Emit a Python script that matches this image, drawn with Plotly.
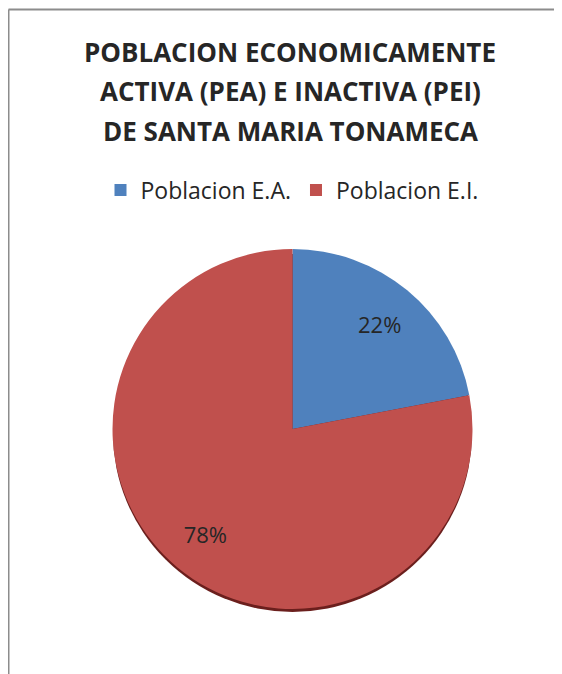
import plotly.graph_objects as go

labels = ["Poblacion E.A.", "Poblacion E.I."]
values = [22, 78]
colors = ["#4F81BD", "#C0504D"]
title_lines = ["POBLACION ECONOMICAMENTE", "ACTIVA (PEA) E INACTIVA (PEI)", "DE SANTA MARIA TONAMECA"]

OFF = 8  # page body margin
W, H = 562 - OFF, 674 - OFF


def px(x):
    return (x - OFF) / W


def py(y):
    return 1 - (y - OFF) / H


dom = dict(x=[px(110), px(475)], y=[py(609), py(249)])

# the filled pie
pie = go.Pie(labels=labels, values=values, sort=False, direction="clockwise", rotation=0,
             marker=dict(colors=colors, line=dict(width=0)),
             textinfo="none", domain=dom, hoverinfo="label+percent")

# transparent ring on top, only to carry the percent labels further out
ring = go.Pie(labels=labels, values=values, sort=False, direction="clockwise", rotation=0,
              hole=0.52, marker=dict(colors=["rgba(0,0,0,0)"] * 2, line=dict(width=0)),
              texttemplate="%{percent:.0%}", textposition="inside",
              insidetextorientation="horizontal",
              insidetextfont=dict(family="Open Sans", size=22, color="#262626"),
              domain=dom, showlegend=False, hoverinfo="skip")

fig = go.Figure(data=[pie, ring])

for i, t in enumerate(title_lines):
    fig.add_annotation(text="<b>%s</b>" % t, x=px(290), y=py(52 + 39.5 * i),
                       xref="paper", yref="paper", showarrow=False,
                       xanchor="center", yanchor="middle",
                       font=dict(family="Open Sans", size=26, color="#262626"))

# chart border (only left and top edges fall inside the picture)
fig.add_shape(type="line", xref="paper", yref="paper", x0=0.5 / W, x1=0.5 / W, y0=0, y1=1 - 1.5 / H,
              line=dict(color="#8C8C8C", width=2))
fig.add_shape(type="line", xref="paper", yref="paper", x0=0.5 / W, x1=1, y0=1 - 1.5 / H, y1=1 - 1.5 / H,
              line=dict(color="#8C8C8C", width=2))
# slight shadow under the bottom edge of the pie
fig.add_shape(type="circle", xref="paper", yref="paper", layer="below",
              x0=px(113), x1=px(472), y0=py(612), y1=py(254),
              line=dict(width=0), fillcolor="#6B1F1D")

fig.update_layout(width=W, height=H, margin=dict(l=0, r=0, t=0, b=0),
                  paper_bgcolor="white", plot_bgcolor="white",
                  showlegend=True,
                  legend=dict(orientation="h", x=px(292), y=py(190), xanchor="center", yanchor="middle",
                              font=dict(family="Open Sans", size=23, color="#262626"),
                              itemwidth=30, traceorder="normal"))

fig.write_html("out.html")
